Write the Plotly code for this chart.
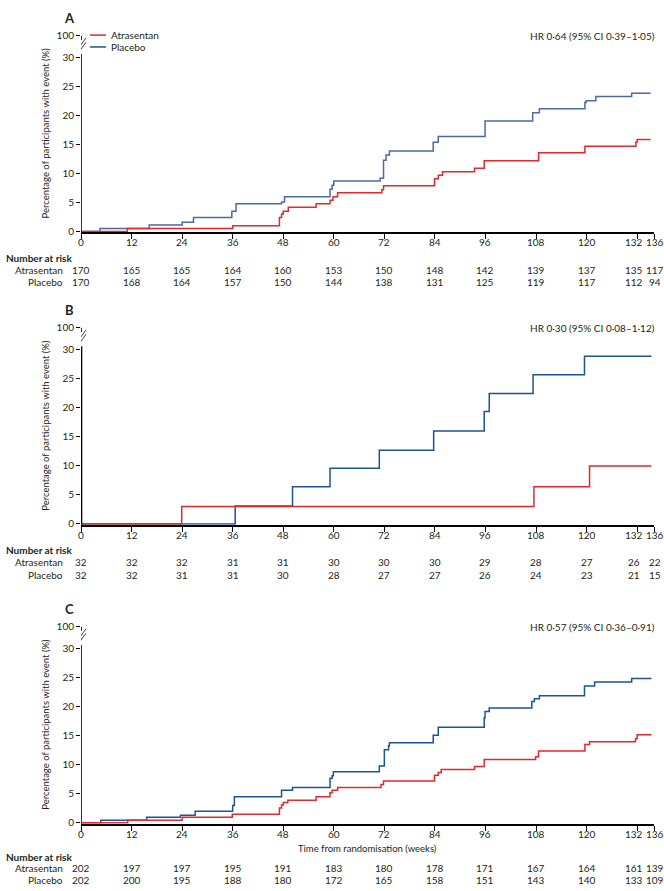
import plotly.graph_objects as go

# ---------------- data ----------------
weeks_ticks = [0, 12, 24, 36, 48, 60, 72, 84, 96, 108, 120, 132, 136]
week_labels = ["0", "12", "24", "36", "48", "60", "72", "84", "96", "108", "120", "132", "136"]

A_atr_t = [0, 11, 36, 47.1, 47.6, 48.0, 49.2, 55.8, 59.1, 59.8, 60.9, 71.4, 71.8, 83.9, 84.8, 85.8, 93.4, 95.7, 108.6, 119.6, 131.7, 132.0, 135.2]
A_atr_y = [0, 0.5, 1.0, 2.4, 3.0, 3.5, 4.2, 4.8, 5.4, 6.0, 6.7, 7.2, 7.9, 9.1, 9.7, 10.3, 10.9, 12.2, 13.6, 14.7, 15.4, 15.9, 15.9]
A_pla_t = [0, 4.5, 16.2, 24.0, 26.7, 35.8, 36.8, 47.6, 48.3, 59.1, 59.6, 60.0, 71.0, 71.8, 72.4, 73.2, 83.6, 84.8, 95.9, 107.2, 108.8, 119.6, 119.9, 122.2, 130.7, 135.2]
A_pla_y = [0, 0.5, 1.1, 1.6, 2.4, 3.5, 4.8, 5.1, 6.0, 7.3, 8.0, 8.7, 9.2, 12.3, 13.2, 13.9, 15.4, 16.4, 19.1, 20.5, 21.2, 22.3, 22.6, 23.3, 23.9, 23.9]

B_atr_t = [0, 23.9, 107.5, 120.7, 135.4]
B_atr_y = [0, 3.0, 6.4, 10.0, 10.0]
B_pla_t = [0, 36.6, 50.2, 59.1, 70.8, 83.7, 95.7, 96.9, 107.3, 119.5, 135.4]
B_pla_y = [0, 3.1, 6.4, 9.6, 12.7, 16.0, 19.4, 22.5, 25.7, 28.9, 28.9]

C_atr_t = [0, 11.1, 24.0, 35.9, 47.1, 47.6, 48.0, 49.1, 55.8, 59.1, 59.6, 60.9, 71.2, 71.8, 83.9, 84.8, 85.5, 93.4, 95.7, 107.9, 108.6, 119.6, 120.7, 131.6, 132.0, 135.4]
C_atr_y = [0, 0.45, 0.97, 1.5, 2.56, 3.07, 3.5, 3.9, 4.5, 5.2, 5.6, 6.1, 6.6, 7.2, 8.2, 8.7, 9.2, 9.7, 10.9, 11.4, 12.4, 13.5, 14.0, 14.5, 15.2, 15.2]
C_pla_t = [0, 4.7, 15.6, 23.6, 27.1, 36.0, 36.4, 47.6, 50.2, 59.1, 59.6, 59.9, 70.8, 72.0, 73.0, 73.2, 83.6, 84.8, 95.7, 95.9, 96.9, 107.0, 107.6, 108.8, 119.5, 121.9, 130.7, 135.4]
C_pla_y = [0, 0.45, 0.97, 1.3, 2.0, 3.0, 4.5, 5.6, 6.1, 7.7, 8.1, 8.8, 9.8, 12.6, 13.3, 13.8, 15.1, 16.5, 18.1, 19.2, 19.8, 20.9, 21.4, 21.9, 23.6, 24.3, 24.9, 24.9]

A_risk_atr = [170, 165, 165, 164, 160, 153, 150, 148, 142, 139, 137, 135, 117]
A_risk_pla = [170, 168, 164, 157, 150, 144, 138, 131, 125, 119, 117, 112, 94]
B_risk_atr = [32, 32, 32, 31, 31, 30, 30, 30, 29, 28, 27, 26, 22]
B_risk_pla = [32, 32, 31, 31, 30, 28, 27, 27, 26, 24, 23, 21, 15]
C_risk_atr = [202, 197, 197, 195, 191, 183, 180, 178, 171, 167, 164, 161, 139]
C_risk_pla = [202, 200, 195, 188, 180, 172, 165, 158, 151, 143, 140, 133, 109]

panel_labels = ["A", "B", "C"]
hr_texts = ["HR 0·64 (95% CI 0·39–1·05)", "HR 0·30 (95% CI 0·08–1·12)", "HR 0·57 (95% CI 0·36–0·91)"]
ytick_vals = [0, 5, 10, 15, 20, 25, 30]
ytick_text = ["0", "5", "10", "15", "20", "25", "30", "100"]
series_names = ["Atrasentan", "Placebo"]
x_title = "Time from randomisation (weeks)"
y_title = "Percentage of participants with event (%)"

# ---------------- styling ----------------
W, H = 664, 891
ML, MR = 81, 10
PW = W - ML - MR
FONT = "Lato, Liberation Sans Narrow, sans-serif"
TXT = "#231f20"
RED = "#e8262b"
BLUE = "#1b5299"
BLUE_A = "#4a6aa8"
TOP = 33.84          # position of the "100" tick above the axis break
YMIN = -0.15
FS = 10

zero_px = [227.5, 524, 827]
top_px = [29, 325, 628]
risk_rows = [(254, 267, 279), (550, 563, 576), (862, 873, 885)]


def py(px):
    return 1 - px / H


def pxx(px):
    return (px - ML) / PW


# the two crowded right-most columns are nudged apart a little (pixel shift)
col_shift = [0] * (len(weeks_ticks) - 2) + [-3, 1]

panels = [
    (A_atr_t, A_atr_y, A_pla_t, A_pla_y, A_risk_atr, A_risk_pla, BLUE_A),
    (B_atr_t, B_atr_y, B_pla_t, B_pla_y, B_risk_atr, B_risk_pla, BLUE),
    (C_atr_t, C_atr_y, C_pla_t, C_pla_y, C_risk_atr, C_risk_pla, BLUE),
]

fig = go.Figure()
annotations = []
shapes = []
layout = {}

for i, (at, ay, pt, pyy, ra, rp, pcol) in enumerate(panels):
    n = "" if i == 0 else str(i + 1)
    xa, ya = "x" + n, "y" + n
    fig.add_trace(go.Scatter(x=pt, y=pyy, mode="lines", line=dict(color=pcol, width=1.5, shape="hv"),
                             name=series_names[1], showlegend=False, xaxis=xa, yaxis=ya, hoverinfo="skip"))
    fig.add_trace(go.Scatter(x=at, y=ay, mode="lines", line=dict(color=RED, width=1.5, shape="hv"),
                             name=series_names[0], showlegend=False, xaxis=xa, yaxis=ya, hoverinfo="skip"))

    span = (zero_px[i] - top_px[i]) / TOP
    bottom_px = zero_px[i] + (-YMIN) * span
    layout["xaxis" + n] = dict(
        domain=[0, 1], anchor=ya, range=[0, 136], tickvals=weeks_ticks, showticklabels=False,
        showline=True, linecolor="black", linewidth=1.6,
        ticks="outside", ticklen=5, tickwidth=1.3, tickcolor="black", showgrid=False, zeroline=False,
        fixedrange=True,
    )
    layout["yaxis" + n] = dict(
        domain=[py(bottom_px), py(top_px[i])], anchor=xa, range=[YMIN, TOP],
        tickvals=ytick_vals + [TOP], ticktext=ytick_text, showline=False, ticks="outside",
        ticklen=4, tickwidth=1.3, tickcolor="black", showgrid=False, zeroline=False,
        tickfont=dict(family=FONT, size=FS, color=TXT), fixedrange=True,
    )
    # x tick labels, placed on the axis scale
    for wk, lab, sh in zip(weeks_ticks, week_labels, col_shift):
        annotations.append(dict(text=lab, x=wk, y=py(zero_px[i] + 11), xref=xa, yref="paper", xshift=sh,
                                showarrow=False, xanchor="center", yanchor="middle",
                                font=dict(family=FONT, size=FS, color=TXT)))

    # broken y-axis line
    lw = 2.6 if i == 1 else 1.6
    shapes.append(dict(type="line", xref=xa, yref=ya, x0=0, x1=0, y0=YMIN, y1=30.65,
                       line=dict(color="black", width=lw)))
    shapes.append(dict(type="line", xref=xa, yref=ya, x0=0, x1=0, y0=33.1, y1=TOP,
                       line=dict(color="black", width=1.6)))
    brk = (30.65 + 33.1) / 2
    for off in (-2.2, 2.2):
        shapes.append(dict(type="line", xref=xa, yref=ya, xsizemode="pixel", ysizemode="pixel",
                           xanchor=0, yanchor=brk, x0=-5, x1=5, y0=-7 + off, y1=7 + off,
                           line=dict(color="#444", width=1)))

    # panel label
    annotations.append(dict(text="<b>%s</b>" % panel_labels[i], x=pxx(69), y=py(top_px[i] - 18),
                            xref="paper", yref="paper", showarrow=False, xanchor="center", yanchor="middle",
                            font=dict(family=FONT, size=13, color=TXT)))
    # HR text
    annotations.append(dict(text=hr_texts[i], x=pxx(657), y=py(top_px[i]), xref="paper", yref="paper",
                            showarrow=False, xanchor="right", yanchor="middle",
                            font=dict(family=FONT, size=FS, color=TXT)))
    # y title
    annotations.append(dict(text=y_title, x=pxx(46), y=py((zero_px[i] + top_px[i]) / 2),
                            xref="paper", yref="paper", showarrow=False, textangle=-90,
                            xanchor="center", yanchor="middle",
                            font=dict(family=FONT, size=9.5, color=TXT)))
    # number at risk
    r0, r1, r2 = risk_rows[i]
    annotations.append(dict(text="<b>Number at risk</b>", x=pxx(4), y=py(r0), xref="paper", yref="paper",
                            showarrow=False, xanchor="left", yanchor="middle",
                            font=dict(family=FONT, size=FS, color=TXT)))
    for lab, row, vals in ((series_names[0], r1, ra), (series_names[1], r2, rp)):
        annotations.append(dict(text=lab, x=pxx(65), y=py(row), xref="paper", yref="paper",
                                showarrow=False, xanchor="right", yanchor="middle",
                                font=dict(family=FONT, size=FS, color=TXT)))
        for wk, v, sh in zip(weeks_ticks, vals, col_shift):
            annotations.append(dict(text=str(v), x=wk, y=py(row), xref=xa, yref="paper", xshift=sh,
                                    showarrow=False, xanchor="center", yanchor="middle",
                                    font=dict(family=FONT, size=FS, color=TXT)))

# legend in panel A
for lab, col, ypx in ((series_names[0], RED, 28.5), (series_names[1], BLUE, 40.5)):
    shapes.append(dict(type="line", xref="paper", yref="paper", x0=pxx(90), x1=pxx(106),
                       y0=py(ypx), y1=py(ypx), line=dict(color=col, width=1.5)))
    annotations.append(dict(text=lab, x=pxx(109), y=py(ypx), xref="paper", yref="paper",
                            showarrow=False, xanchor="left", yanchor="middle",
                            font=dict(family=FONT, size=10, color=TXT)))

# x-axis title (bottom panel)
annotations.append(dict(text=x_title, x=68, y=py(853), xref="x3", yref="paper", showarrow=False,
                        xanchor="center", yanchor="middle", font=dict(family=FONT, size=9.5, color=TXT)))

fig.update_layout(
    width=W, height=H, margin=dict(l=ML, r=MR, t=0, b=0, pad=0),
    paper_bgcolor="white", plot_bgcolor="white", showlegend=False,
    annotations=annotations, shapes=shapes, **layout,
)
fig.write_html("out.html")
